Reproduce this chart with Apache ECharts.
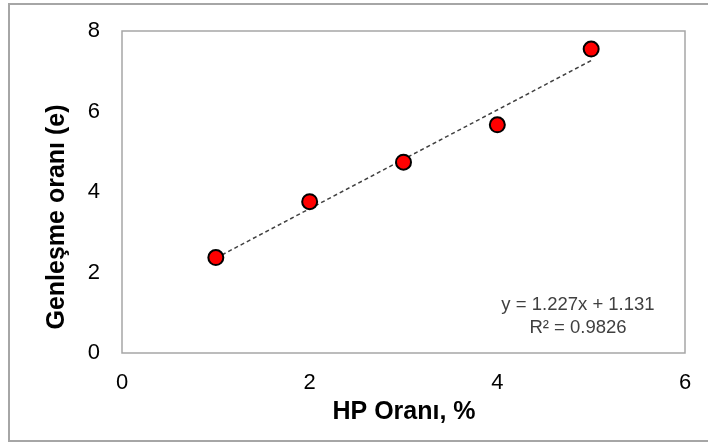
<!DOCTYPE html>
<html>
<head>
<meta charset="utf-8">
<script src="https://cdn.jsdelivr.net/npm/echarts@6/dist/echarts.min.js"></script>
<style>
  html, body { margin: 0; padding: 0; background: #ffffff; }
  #chart { width: 708px; height: 443px; }
</style>
</head>
<body>
<div id="chart"></div>
<script>
// HP ratio (%) against expansion ratio (e)
const hpRatio = [1, 2, 3, 4, 5];
const expansion = [2.37, 3.76, 4.74, 5.67, 7.55];

// Linear trend line coefficients and fit quality
const trendSlope = 1.227;
const trendIntercept = 1.131;
const rSquared = 0.9826;

const xTicks = [0, 2, 4, 6];
const yTicks = [0, 2, 4, 6, 8];

const xTitle = 'HP Oranı, %';
const yTitle = 'Genleşme oranı (e)';

const points = hpRatio.map((x, i) => [x, expansion[i]]);
const xFirst = hpRatio[0];
const xLast = hpRatio[hpRatio.length - 1];
const trend = [
  [xFirst, trendSlope * xFirst + trendIntercept],
  [xLast, trendSlope * xLast + trendIntercept]
];

const font = '"Liberation Sans", Arial, sans-serif';

const chart = echarts.init(document.getElementById('chart'), null, { renderer: 'canvas' });

chart.setOption({
  backgroundColor: '#ffffff',
  animation: false,
  grid: {
    left: 122, top: 31, right: 23, bottom: 90,
    show: true, borderColor: '#a6a6a6', borderWidth: 1.5
  },
  xAxis: {
    type: 'value',
    min: xTicks[0], max: xTicks[xTicks.length - 1], interval: 2,
    axisLine: { show: false },
    axisTick: { show: false },
    splitLine: { show: false },
    axisLabel: { fontFamily: font, fontSize: 22, color: '#000000', margin: 19 }
  },
  yAxis: {
    type: 'value',
    min: yTicks[0], max: yTicks[yTicks.length - 1], interval: 2,
    axisLine: { show: false },
    axisTick: { show: false },
    splitLine: { show: false },
    axisLabel: { fontFamily: font, fontSize: 22, color: '#000000', margin: 22 }
  },
  series: [
    {
      type: 'line',
      data: trend,
      symbol: 'none',
      lineStyle: { color: '#404040', width: 1.5, type: [4, 3] },
      silent: true,
      z: 2
    },
    {
      type: 'scatter',
      data: points,
      symbol: 'circle',
      symbolSize: 15,
      itemStyle: { color: '#ff0000', opacity: 1, borderColor: '#000000', borderWidth: 2 },
      z: 3
    }
  ],
  graphic: [
    {
      type: 'rect',
      shape: { x: 9, y: 4, width: 720, height: 437 },
      style: { fill: 'none', stroke: '#a6a6a6', lineWidth: 2 },
      silent: true
    },
    {
      type: 'text',
      x: 404, y: 412,
      style: {
        text: xTitle, font: 'bold 25px ' + font, fill: '#000000',
        textAlign: 'center', textVerticalAlign: 'middle'
      }
    },
    {
      type: 'text',
      x: 57, y: 217,
      rotation: Math.PI / 2,
      style: {
        text: yTitle, font: 'bold 25px ' + font, fill: '#000000',
        textAlign: 'center', textVerticalAlign: 'middle'
      }
    },
    {
      type: 'text',
      x: 578, y: 305,
      style: {
        text: 'y = ' + trendSlope.toFixed(3) + 'x + ' + trendIntercept.toFixed(3),
        font: '18.5px ' + font, fill: '#404040',
        textAlign: 'center', textVerticalAlign: 'middle'
      }
    },
    {
      type: 'text',
      x: 578, y: 328,
      style: {
        text: 'R² = ' + rSquared.toFixed(4),
        font: '18.5px ' + font, fill: '#404040',
        textAlign: 'center', textVerticalAlign: 'middle'
      }
    }
  ]
});
</script>
</body>
</html>
